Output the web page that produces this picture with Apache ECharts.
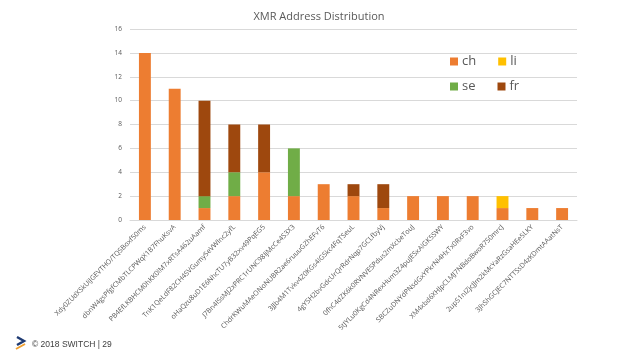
<!DOCTYPE html>
<html>
<head>
<meta charset="utf-8">
<script src="https://cdn.jsdelivr.net/npm/echarts@6/dist/echarts.min.js"></script>
<style>html,body{margin:0;padding:0;background:#fff}#c{width:638px;height:359px}</style>
</head>
<body>
<div id="c"></div>
<script>
const categories = [
  "Xdy0ZUdXSkUiJGEVTHO/TQSBoxf50ms",
  "dbnW4gsPfgfCMbTLCPWqX1B7FhuKsvA",
  "PB4EfLKBHCM0hKK0lM7xRTsA462uAamf",
  "TnK1QeLdF82CH4SVGumy5eVWInc2yfL",
  "oHaQzu8uD1E6NhcTU7yB32xv49PqEG5",
  "J7Bn4ISsMJ2xPRC1rUNC98IjMcCe4S3X3",
  "ChdrKWuMAeONoNUBR2ae6ruuuGZhEFvT6",
  "3JJb4M1Tvkv4Z0KGs4lGSkc4FqTSeuL",
  "4gYSH2bvGdcUrQrRdrNqp7GCLfbyVj",
  "0fhC4dZK6k0RVNVESPdus2mXcbeTouJ",
  "5tJYLu0KgCd4NRexHum3Z4puJESxAlGK5SWY",
  "SBCZuDNYdPNsdGxYPkrNi4HxTx0RxF3vo",
  "XM4xbd6XHJpCLMJ7NBdoBwoR7S0mrcJ",
  "2upS1nIZjcJJm2kMcYaRzGsaHEe5LKY",
  "3JhShGCJEC7NTTSsD4zKDmtAAatNsT"
];
const ch = [14, 11, 1, 2, 4, 2, 3, 2, 1, 2, 2, 2, 1, 1, 1];
const se = [0, 0, 1, 2, 0, 4, 0, 0, 0, 0, 0, 0, 0, 0, 0];
const fr = [0, 0, 8, 4, 4, 0, 0, 1, 2, 0, 0, 0, 0, 0, 0];
const li = [0, 0, 0, 0, 0, 0, 0, 0, 0, 0, 0, 0, 1, 0, 0];
const yTicks = [0, 2, 4, 6, 8, 10, 12, 14, 16];

const colors = {ch: '#ED7D31', li: '#FFC000', se: '#70AD47', fr: '#9E480E'};
const toData = a => a.map(v => v === 0 ? '-' : v);
const mk = (name, arr) => ({
  name, type: 'bar', stack: 'total', data: toData(arr), barWidth: '40%',
  itemStyle: {color: colors[name]}
});

const chart = echarts.init(document.getElementById('c'), null, {renderer: 'canvas'});
chart.setOption({
  animation: false,
  title: {
    text: 'XMR Address Distribution', left: 'center', top: 6,
    textStyle: {fontFamily: 'Open Sans', fontSize: 11, fontWeight: 'normal', color: '#595959'}
  },
  legend: [
    {data: ['ch', 'li'], left: 445, top: 50, itemWidth: 8, itemHeight: 8, itemGap: 22, icon: 'rect',
     textStyle: {fontFamily: 'Open Sans', fontSize: 13, color: '#595959', padding: [0, 0, 0, -1]}},
    {data: ['se', 'fr'], left: 445, top: 75, itemWidth: 8, itemHeight: 8, itemGap: 22, icon: 'rect',
     textStyle: {fontFamily: 'Open Sans', fontSize: 13, color: '#595959', padding: [0, 0, 0, -1]}}
  ],
  grid: {left: 130, right: 61, top: 29, bottom: 139, containLabel: false},
  xAxis: {
    type: 'category', data: categories,
    axisLine: {lineStyle: {color: '#d9d9d9'}},
    axisTick: {show: false},
    axisLabel: {rotate: 45, interval: 0, fontSize: 7, color: '#595959', fontFamily: 'Open Sans', margin: 6}
  },
  yAxis: {
    type: 'value', min: yTicks[0], max: yTicks[yTicks.length - 1], interval: 2,
    axisLine: {show: false}, axisTick: {show: false},
    splitLine: {lineStyle: {color: '#d9d9d9'}},
    axisLabel: {fontSize: 6.5, color: '#595959', fontFamily: 'Open Sans', margin: 8}
  },
  series: [mk('ch', ch), mk('se', se), mk('fr', fr), mk('li', li)],
  graphic: [
    {type: 'polyline', shape: {points: [[17, 337], [24, 341], [17, 345]]},
     style: {stroke: '#1f3b73', lineWidth: 2.5, fill: null}},
    {type: 'line', shape: {x1: 16, y1: 349, x2: 25, y2: 344},
     style: {stroke: '#F0A030', lineWidth: 2}},
    {type: 'text', left: 32, top: 340,
     style: {text: '© 2018 SWITCH | 29', fontFamily: 'Liberation Sans', fontSize: 8.5, fill: '#404040'}}
  ]
});
</script>
</body>
</html>
